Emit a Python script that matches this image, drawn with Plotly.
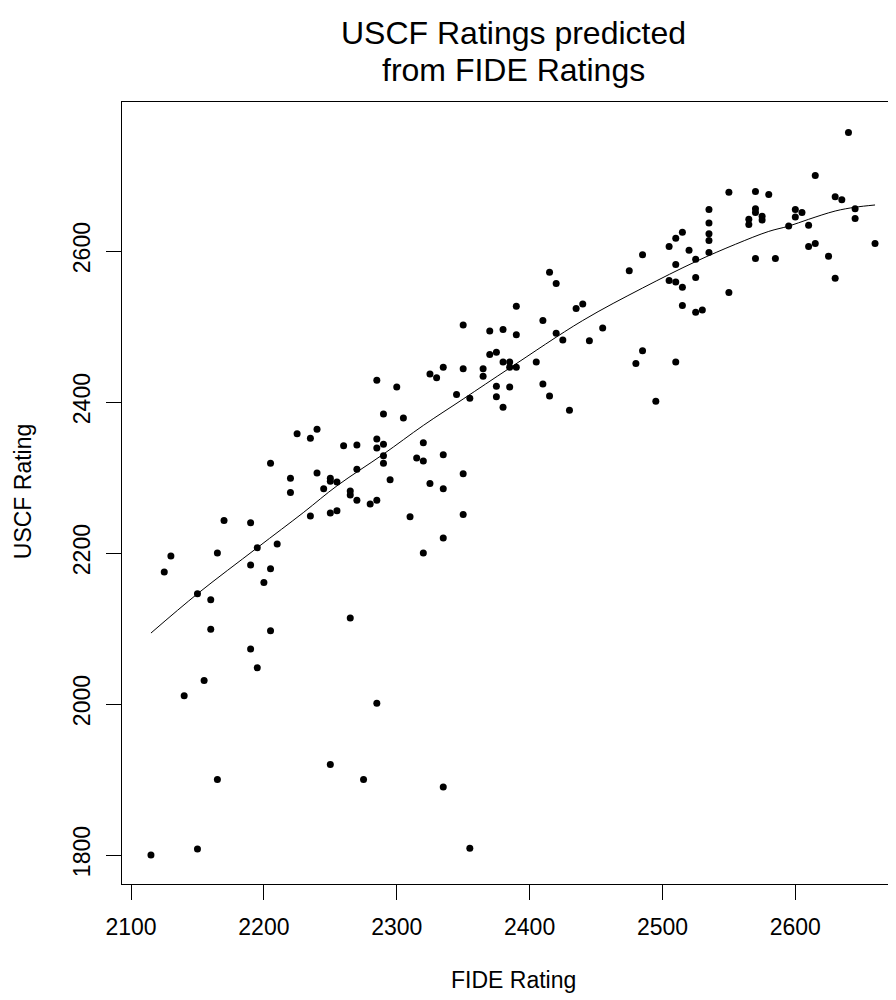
import plotly.graph_objects as go

fide = [2485, 2475, 2415, 2420, 2390, 2435, 2440, 2350, 2370, 2380,
        2410, 2390, 2420, 2425, 2445, 2455, 2370, 2375, 2380, 2385,
        2405, 2335, 2350, 2365, 2385, 2390, 2480, 2485, 2640, 2615,
        2550, 2570, 2580, 2630, 2635, 2535, 2570, 2570, 2565, 2565,
        2575, 2575, 2600, 2605, 2600, 2645, 2645, 2535, 2595, 2610,
        2515, 2510, 2505, 2535, 2535, 2535, 2520, 2510, 2525, 2610,
        2615, 2660, 2570, 2585, 2625, 2630, 2505, 2510, 2515, 2525,
        2550, 2515, 2525, 2530, 2510, 2285, 2290, 2225, 2235, 2240,
        2260, 2270, 2285, 2285, 2290, 2290, 2290, 2205, 2220, 2240,
        2250, 2250, 2255, 2270, 2220, 2245, 2265, 2265, 2270, 2280,
        2285, 2235, 2250, 2255, 2170, 2190, 2195, 2210, 2130, 2125,
        2165, 2190, 2205, 2200, 2150, 2160, 2265, 2160, 2205, 2325,
        2330, 2365, 2300, 2345, 2355, 2375, 2375, 2385, 2380, 2410,
        2415, 2430, 2305, 2320, 2315, 2320, 2335, 2350, 2295, 2325,
        2335, 2310, 2350, 2335, 2320, 2495, 2190, 2195, 2155, 2140,
        2285, 2250, 2275, 2165, 2115, 2150, 2335, 2355]

uscf = [2595, 2574, 2572, 2557, 2527, 2524, 2530, 2502, 2494, 2496,
        2508, 2489, 2491, 2482, 2481, 2498, 2463, 2466, 2453, 2453,
        2453, 2446, 2444, 2444, 2446, 2446, 2451, 2468, 2757, 2700,
        2678, 2679, 2675, 2672, 2668, 2655, 2656, 2651, 2642, 2635,
        2646, 2641, 2655, 2651, 2645, 2656, 2643, 2637, 2633, 2634,
        2625, 2617, 2606, 2623, 2614, 2598, 2601, 2582, 2589, 2606,
        2610, 2610, 2590, 2590, 2593, 2564, 2561, 2559, 2552, 2565,
        2545, 2528, 2519, 2522, 2453, 2429, 2384, 2358, 2352, 2364,
        2342, 2343, 2351, 2339, 2344, 2329, 2319, 2319, 2299, 2306,
        2299, 2295, 2294, 2311, 2280, 2285, 2282, 2277, 2270, 2265,
        2270, 2249, 2253, 2256, 2243, 2240, 2207, 2212, 2196, 2175,
        2200, 2184, 2179, 2161, 2146, 2138, 2114, 2099, 2097, 2437,
        2432, 2434, 2420, 2410, 2405, 2421, 2407, 2420, 2393, 2424,
        2408, 2389, 2379, 2346, 2326, 2322, 2330, 2305, 2297, 2292,
        2285, 2248, 2251, 2220, 2200, 2401, 2073, 2048, 2031, 2011,
        2001, 1920, 1900, 1900, 1800, 1808, 1890, 1809]

fit_fide = [2115, 2150, 2195, 2230, 2255, 2290, 2320, 2350, 2385, 2440,
            2485, 2525, 2555, 2580, 2595, 2610, 2630, 2645, 2660]
fit_uscf = [2094, 2146, 2207, 2254, 2289, 2331, 2369, 2404, 2445, 2508,
            2551, 2586, 2609, 2626, 2633, 2642, 2653, 2658, 2661]

x_ticks = [2100, 2200, 2300, 2400, 2500, 2600]
y_ticks = [1800, 2000, 2200, 2400, 2600]

title_lines = ["USCF Ratings predicted", "from FIDE Ratings"]

FONT = "Liberation Sans, Arial, Helvetica, sans-serif"

fig = go.Figure()
fig.add_trace(go.Scatter(
    x=fide, y=uscf, mode="markers",
    marker=dict(color="black", size=7, line=dict(width=0)),
    showlegend=False, hoverinfo="x+y"))
fig.add_trace(go.Scatter(
    x=fit_fide, y=fit_uscf, mode="lines",
    line=dict(color="black", width=1, shape="spline"),
    showlegend=False, hoverinfo="skip"))

fig.update_layout(
    width=896, height=1000,
    margin=dict(l=114, r=0, t=93.5, b=124),
    paper_bgcolor="white", plot_bgcolor="white",
    font=dict(family=FONT, color="black", size=23),
    xaxis=dict(range=[2093.2, 2681.8], tickmode="array", tickvals=x_ticks,
               ticktext=[str(v) for v in x_ticks],
               showgrid=False, zeroline=False, showline=True, mirror=True,
               linecolor="black", linewidth=1, ticks="outside", ticklen=15,
               tickcolor="black", tickwidth=1, ticklabelstandoff=7,
               tickfont=dict(size=23, family=FONT), fixedrange=True),
    yaxis=dict(range=[1761.6, 2797.4], tickmode="array", tickvals=y_ticks,
               ticktext=[str(v) for v in y_ticks],
               showgrid=False, zeroline=False, showline=True, mirror=True,
               linecolor="black", linewidth=1, ticks="outside", ticklen=15,
               tickcolor="black", tickwidth=1, tickangle=-90,
               ticklabelstandoff=7,
               tickfont=dict(size=23, family=FONT), fixedrange=True),
    annotations=[
        dict(text=title_lines[0], xref="paper", yref="paper",
             x=0.5, y=1.0, yshift=69.5, xanchor="center", yanchor="middle",
             showarrow=False, borderpad=0, font=dict(size=32, family=FONT)),
        dict(text=title_lines[1], xref="paper", yref="paper",
             x=0.5, y=1.0, yshift=32, xanchor="center", yanchor="middle",
             showarrow=False, borderpad=0, font=dict(size=32, family=FONT)),
        dict(text="FIDE Rating", xref="paper", yref="paper",
             x=0.5, y=0.0, yshift=-96, xanchor="center", yanchor="middle",
             showarrow=False, font=dict(size=23, family=FONT)),
        dict(text="USCF Rating", xref="paper", yref="paper",
             x=0.0, xshift=-99, y=0.501, xanchor="center", yanchor="middle",
             textangle=-90, showarrow=False, font=dict(size=23, family=FONT)),
    ],
)

fig.write_html("out.html")
